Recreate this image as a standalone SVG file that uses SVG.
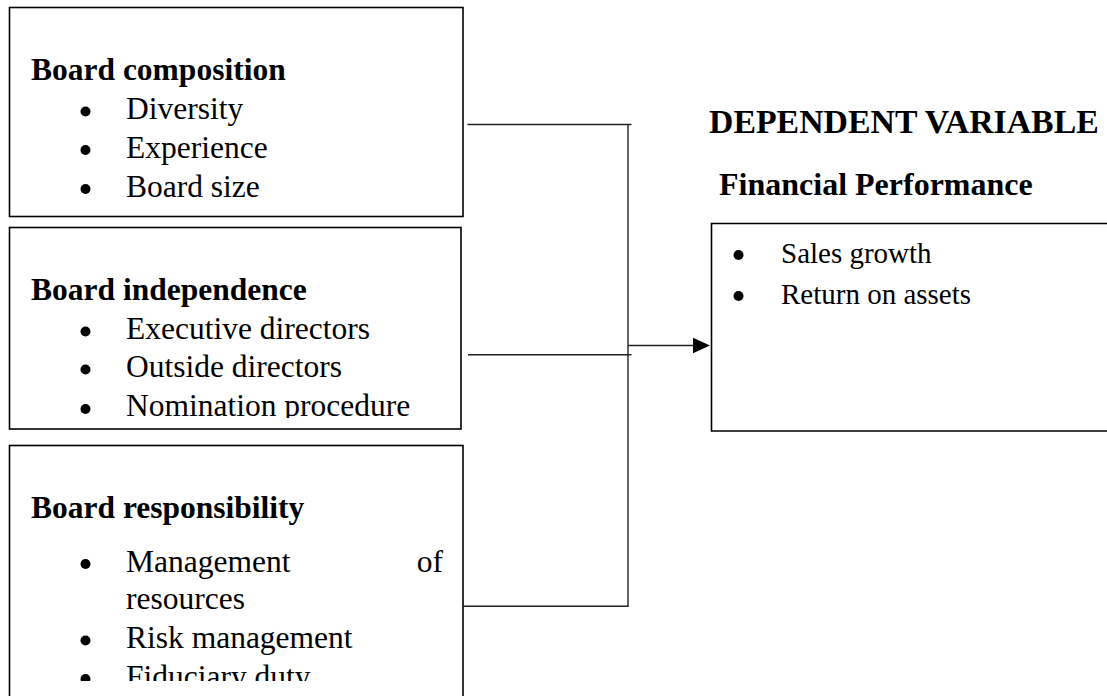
<svg xmlns="http://www.w3.org/2000/svg" width="1107" height="696" viewBox="0 0 1107 696">
<style>
.box{fill:none;stroke:#000;stroke-width:1.6}
.con{fill:none;stroke:#222;stroke-width:1.4}
.t{font-family:"Liberation Serif","Times New Roman",serif;fill:#000}
.h{font-weight:bold;font-size:31.5px}
.i{font-size:31.5px}
.r{font-size:29px}
.hr{font-weight:bold;font-size:32px}
.hd{font-weight:bold;font-size:33.8px}
.b{fill:#000}
</style>
<defs>
<clipPath id="clip2"><rect x="0" y="227" width="470" height="191"/></clipPath>
<clipPath id="clip3"><rect x="0" y="445" width="470" height="236"/></clipPath>
</defs>
<rect width="1107" height="696" fill="#fff"/>

<g id="board-composition">
<rect class="box" x="9.5" y="7.5" width="453.5" height="209"/>
<text class="t h" x="31" y="80">Board composition</text>
<circle class="b" cx="85.5" cy="111.5" r="5"/>
<text class="t i" x="126" y="119">Diversity</text>
<circle class="b" cx="85.5" cy="150" r="5"/>
<text class="t i" x="126" y="157.5">Experience</text>
<circle class="b" cx="85.5" cy="189" r="5"/>
<text class="t i" x="126" y="196.5">Board size</text>
</g>

<g id="board-independence">
<rect class="box" x="9.5" y="227.5" width="451.5" height="201.5"/>
<text class="t h" x="31" y="300">Board independence</text>
<circle class="b" cx="85.5" cy="331.5" r="5"/>
<text class="t i" x="126" y="339">Executive directors</text>
<circle class="b" cx="85.5" cy="369.5" r="5"/>
<text class="t i" x="126" y="377">Outside directors</text>
<g clip-path="url(#clip2)">
<circle class="b" cx="85.5" cy="409" r="5"/>
<text class="t i" x="126" y="416">Nomination procedure</text>
</g>
</g>

<g id="board-responsibility">
<rect class="box" x="9.5" y="445.5" width="453.5" height="270"/>
<text class="t h" x="31" y="518">Board responsibility</text>
<circle class="b" cx="85.5" cy="564" r="5"/>
<text class="t i" x="126" y="571.5">Management</text>
<text class="t i" x="443" y="571.5" text-anchor="end">of</text>
<text class="t i" x="126" y="609">resources</text>
<circle class="b" cx="85.5" cy="640.5" r="5"/>
<text class="t i" x="126" y="648">Risk management</text>
<g clip-path="url(#clip3)">
<circle class="b" cx="85.5" cy="679" r="5"/>
<text class="t i" x="126" y="686.5">Fiduciary duty</text>
</g>
</g>

<g id="dependent-variable">
<text class="t hd" x="709" y="132.5">DEPENDENT VARIABLE</text>
<text class="t hr" x="719" y="195">Financial Performance</text>
<path class="box" d="M1108,223.5 H711.5 V431 H1108"/>
<circle class="b" cx="738.5" cy="255" r="5"/>
<text class="t r" x="781" y="263">Sales growth</text>
<circle class="b" cx="738.5" cy="296" r="5"/>
<text class="t r" x="781" y="304">Return on assets</text>
</g>

<g id="connectors">
<line class="con" x1="467.5" y1="124.5" x2="631.5" y2="124.5"/>
<line class="con" x1="468" y1="354.8" x2="631.5" y2="354.8"/>
<line class="con" x1="463" y1="606.2" x2="628.5" y2="606.2"/>
<line class="con" x1="628" y1="124" x2="628" y2="606.8"/>
<line class="con" x1="628" y1="345.5" x2="697" y2="345.5"/>
<polygon fill="#000" points="693,337.7 710,345.5 693,353.3"/>
</g>
</svg>
